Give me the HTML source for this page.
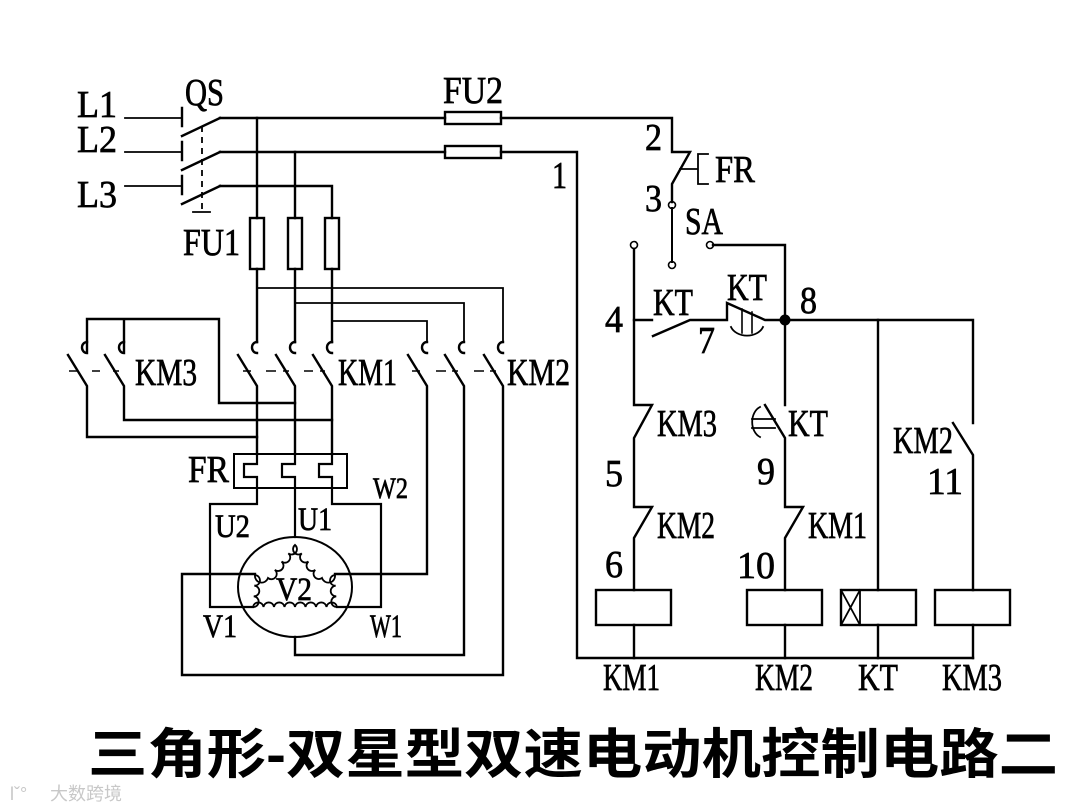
<!DOCTYPE html>
<html><head><meta charset="utf-8"><style>
html,body{margin:0;padding:0;background:#fff;}
svg{display:block;}
text{font-family:"Liberation Serif","Noto Serif CJK SC",serif;fill:#000;}
.l text{stroke:#000;stroke-width:0.7;}
</style></head><body>
<svg width="1080" height="810" viewBox="0 0 1080 810" xmlns="http://www.w3.org/2000/svg">
<g fill="none" stroke="#000" stroke-width="2.4" stroke-linecap="square">
<path d="M125 118H182M125 152H182M125 186H182" stroke-width="1.8"/>
<path d="M182 108V126M182 142V160M182 176V194"/>
<path d="M182 136L220 118M182 170L220 152M182 204L220 186"/>
<path d="M202 126V210" stroke-dasharray="6,5" stroke-width="1.8" stroke-linecap="butt"/>
<path d="M193 212H210" stroke-width="1.8"/>
<path d="M220 118H445M501 118H672V152H690L672 184V202"/>
<rect x="445" y="112" width="56" height="12"/>
<path d="M220 152H445M501 152H577V658H973"/>
<rect x="445" y="146" width="56" height="12"/>
<path d="M220 186H332V218"/>
<path d="M257 118V218M295 152V218"/>
<rect x="250" y="218" width="14" height="51"/>
<rect x="288" y="218" width="14" height="51"/>
<rect x="325" y="218" width="14" height="51"/>
<path d="M257 269V342M295 269V342M332 269V342"/>
<path d="M257 288H503V342M295 303H464V342M332 321H427V342" stroke-width="1.8"/>
<path d="M87 342V319H219V403H295M124 319V342"/>
<g>
<path d="M87 342A5 5.5 0 0 0 87 353V342M68 355L87 386V437H257"/>
<path d="M124 342A5 5.5 0 0 0 124 353V342M105 355L124 386V420H332" />
<path d="M257 342A5 5.5 0 0 0 257 353M238 355L257 386V454"/>
<path d="M295 342A5 5.5 0 0 0 295 353M276 355L295 386V454"/>
<path d="M332 342A5 5.5 0 0 0 332 353M313 355L332 386V454"/>
<path d="M427 342A5 5.5 0 0 0 427 353M408 355L427 386V574H335"/>
<path d="M464 342A5 5.5 0 0 0 464 353M445 355L464 386V655H295V637"/>
<path d="M503 342A5 5.5 0 0 0 503 353M484 355L503 386V675H182V574H255"/>
</g>
<path d="M69 371H77M92 371H100M113 371H119M243 371H251M266 371H276M283 371H289M304 371H313M320 371H325M412 371H420M436 371H446M452 371H458M474 371H484M490 371H496" stroke-width="1.6" stroke-linecap="butt"/>
<rect x="234" y="454" width="113" height="34" stroke-width="2"/>
<path d="M257 454V464H244V477H257V504H210V607H253M295 454V464H282V477H295V537M332 454V464H319V477H332V504H381V607H337" stroke-width="2.2"/>
<ellipse cx="295" cy="587" rx="57" ry="50" stroke-width="2"/>
<path id="wind" d="" stroke-width="1.8"/>
<circle cx="672" cy="205" r="3.5" stroke-width="1.6"/>
<circle cx="672" cy="265" r="3.5" stroke-width="1.6"/>
<path d="M672 208V262" stroke-width="2"/>
<circle cx="634" cy="245" r="3.5" stroke-width="1.6"/>
<circle cx="710" cy="245" r="3.5" stroke-width="1.6"/>
<path d="M713 245H785V405"/>
<path d="M680 169H697M708 154H698V184H708" stroke-width="1.8"/>
<path d="M634 249V405H652L634 438V507H652L634 538V590"/>
<path d="M634 320H652M653 336L690 320H727V303L765 320H785H973V423M953 423L973 455V590"/>
<path d="M742 309V333M752 312V333" stroke-width="1.6"/>
<path d="M731 327A17 13 0 0 0 763 327" stroke-width="1.8"/>
<path d="M878 320V590"/>
<path d="M765 405L785 438V507H803L785 538V590"/>
<path d="M760 407A12 16 0 0 0 760 437M752 419H775M752 428H775" stroke-width="1.8"/>
<rect x="596" y="590" width="75" height="35"/>
<rect x="747" y="590" width="75" height="35"/>
<rect x="841" y="590" width="75" height="35"/>
<path d="M860 590V625M841 590L860 625M860 590L841 625" stroke-width="1.8"/>
<rect x="935" y="590" width="75" height="35"/>
<path d="M634 625V658M785 625V658M878 625V658M973 625V658"/>
</g>
<circle cx="785" cy="320" r="5.5" fill="#000"/>
<g font-size="38" class="l">
<text x="77" y="117" textLength="40" lengthAdjust="spacingAndGlyphs">L1</text>
<text x="77" y="152" textLength="40" lengthAdjust="spacingAndGlyphs">L2</text>
<text x="77" y="207" textLength="40" lengthAdjust="spacingAndGlyphs">L3</text>
<text x="185" y="105" textLength="39" lengthAdjust="spacingAndGlyphs">QS</text>
<text x="443" y="103" textLength="60" lengthAdjust="spacingAndGlyphs">FU2</text>
<text x="552" y="188" textLength="15" lengthAdjust="spacingAndGlyphs">1</text>
<text x="183" y="255" textLength="57" lengthAdjust="spacingAndGlyphs">FU1</text>
<text x="135" y="385" textLength="62" lengthAdjust="spacingAndGlyphs">KM3</text>
<text x="338" y="385" textLength="59" lengthAdjust="spacingAndGlyphs">KM1</text>
<text x="507" y="385" textLength="63" lengthAdjust="spacingAndGlyphs">KM2</text>
<text x="188" y="482" textLength="41" lengthAdjust="spacingAndGlyphs">FR</text>
<text x="373" y="498" font-size="30" textLength="35" lengthAdjust="spacingAndGlyphs">W2</text>
<text x="215" y="537" font-size="33" textLength="35" lengthAdjust="spacingAndGlyphs">U2</text>
<text x="298" y="530" font-size="33" textLength="34" lengthAdjust="spacingAndGlyphs">U1</text>
<text x="276" y="600" font-size="33" textLength="36" lengthAdjust="spacingAndGlyphs">V2</text>
<text x="203" y="637" font-size="33" textLength="34" lengthAdjust="spacingAndGlyphs">V1</text>
<text x="370" y="637" font-size="33" textLength="32" lengthAdjust="spacingAndGlyphs">W1</text>
<text x="645" y="150" textLength="17" lengthAdjust="spacingAndGlyphs">2</text>
<text x="715" y="182" textLength="40" lengthAdjust="spacingAndGlyphs">FR</text>
<text x="645" y="211" textLength="17" lengthAdjust="spacingAndGlyphs">3</text>
<text x="685" y="234" textLength="38" lengthAdjust="spacingAndGlyphs">SA</text>
<text x="653" y="315" textLength="40" lengthAdjust="spacingAndGlyphs">KT</text>
<text x="727" y="300" textLength="40" lengthAdjust="spacingAndGlyphs">KT</text>
<text x="800" y="313" textLength="17" lengthAdjust="spacingAndGlyphs">8</text>
<text x="605" y="332" textLength="18" lengthAdjust="spacingAndGlyphs">4</text>
<text x="698" y="353" textLength="17" lengthAdjust="spacingAndGlyphs">7</text>
<text x="657" y="436" textLength="60" lengthAdjust="spacingAndGlyphs">KM3</text>
<text x="788" y="436" textLength="40" lengthAdjust="spacingAndGlyphs">KT</text>
<text x="893" y="453" textLength="60" lengthAdjust="spacingAndGlyphs">KM2</text>
<text x="605" y="486" textLength="18" lengthAdjust="spacingAndGlyphs">5</text>
<text x="757" y="484" textLength="18" lengthAdjust="spacingAndGlyphs">9</text>
<text x="927" y="494" textLength="36" lengthAdjust="spacingAndGlyphs">11</text>
<text x="657" y="538" textLength="58" lengthAdjust="spacingAndGlyphs">KM2</text>
<text x="808" y="538" textLength="59" lengthAdjust="spacingAndGlyphs">KM1</text>
<text x="605" y="577" textLength="18" lengthAdjust="spacingAndGlyphs">6</text>
<text x="737" y="578" textLength="38" lengthAdjust="spacingAndGlyphs">10</text>
<text x="603" y="690" textLength="57" lengthAdjust="spacingAndGlyphs">KM1</text>
<text x="755" y="690" textLength="58" lengthAdjust="spacingAndGlyphs">KM2</text>
<text x="858" y="690" textLength="40" lengthAdjust="spacingAndGlyphs">KT</text>
<text x="942" y="690" textLength="60" lengthAdjust="spacingAndGlyphs">KM3</text>
</g>
<text x="88" y="773" font-size="54" font-weight="bold" textLength="970" lengthAdjust="spacingAndGlyphs" style='font-family:"Liberation Sans","Noto Sans CJK SC",sans-serif'>三角形-双星型双速电动机控制电路二</text>
<text x="50" y="800" font-size="18" style='font-family:"Liberation Sans","Noto Sans CJK SC",sans-serif;fill:#c8c8c8'>大数跨境</text>
<text x="10" y="800" font-size="18" style='font-family:"Liberation Sans",sans-serif;fill:#c8c8c8'>l&#x2C7;°</text>
</svg>
<script>
(function(){
var P=[[295,545],[268,578],[255,575],[253,607],[295,607],[337,607],[335,575],[322,578],[295,545]];
var d="M"+P[0][0]+" "+P[0][1];
for(var i=0;i<P.length-1;i++){
var a=P[i],b=P[i+1],dx=b[0]-a[0],dy=b[1]-a[1],L=Math.sqrt(dx*dx+dy*dy),n=Math.max(1,Math.round(L/12));
for(var k=1;k<=n;k++){var x=a[0]+dx*k/n,y=a[1]+dy*k/n,r=L/n/2;d+=" A"+r.toFixed(1)+" "+r.toFixed(1)+" 0 0 1 "+x.toFixed(1)+" "+y.toFixed(1);}
}
document.getElementById("wind").setAttribute("d",d);
})();
</script>
</body></html>
